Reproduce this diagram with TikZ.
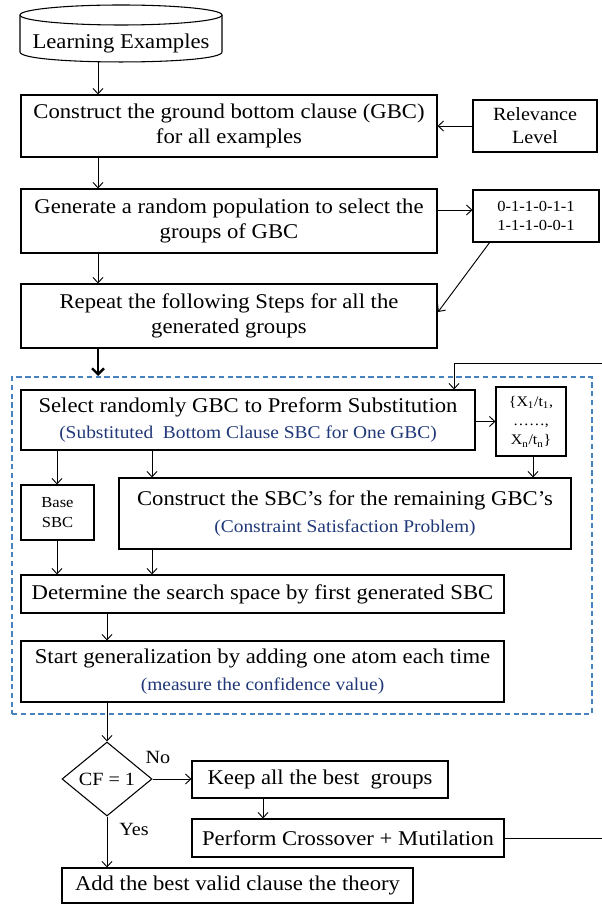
\documentclass[tikz,border=0pt]{standalone}
\usepackage{fontspec}
\setmainfont{Liberation Serif}[FakeStretch=1.08]
\usetikzlibrary{arrows.meta,shapes.geometric,fit}

\definecolor{notecol}{RGB}{32,56,120}
\definecolor{framecol}{RGB}{70,130,190}

\newcommand\mainsz{\fontsize{15.75}{18.75}\selectfont}
\newcommand\notesz{\fontsize{13.5}{16}\selectfont}
\newcommand\lblsz{\fontsize{14}{17.25}\selectfont}
\newcommand\binsz{\fontsize{11.5}{14.25}\selectfont}
\newcommand\minisz{\fontsize{11.5}{15}\selectfont}
\newcommand\subsz{\fontsize{11}{14.5}\selectfont}

% \boxat{style}{name}{x1}{y1}{x2}{y2}{text}; -- a node filling the given corners
\newcommand\boxat[6]{\node[#1, minimum width={(#5-#3)*0.75pt}, minimum height={(#6-#4)*0.75pt}]
  (#2) at ({(#3+#5)/2},{(#4+#6)/2})}

\begin{document}
\begin{tikzpicture}[x=0.75pt,y=-0.75pt,
  box/.style={draw, line width=0.8pt, inner sep=0pt, align=center, font=\mainsz},
  smallbox/.style={draw, line width=0.8pt, inner sep=0pt, align=center},
  arr/.style={line width=0.7pt, -{Straight Barb[length=4pt,width=7.5pt]}},
  thickarr/.style={line width=1.8pt, -{Straight Barb[length=4.5pt,width=9pt]}},
  plain/.style={line width=0.8pt},
]
\useasboundingbox (0,0) rectangle (602,905);

% column positions for the vertical connectors
\coordinate (cA) at (98,0);
\coordinate (cB) at (57,0);
\coordinate (cC) at (152,0);
\coordinate (cD) at (533,0);
\coordinate (cE) at (107,0);
\coordinate (cF) at (263,0);

% data store: cylinder
\draw[plain] (121,15) ellipse [x radius=101, y radius=10];
\draw[plain] (20,15) -- (20,52) .. controls (20,65.3) and (222,65.3) .. (222,52) -- (222,15);
\node[inner sep=0pt, minimum width=151.5pt, minimum height=27.75pt, font=\mainsz] (le) at (121,43.5) {Learning Examples};

% upper chain
\boxat{box}{b2}{21}{95}{437}{157} {Construct the ground bottom clause (GBC)\\for all examples};
\boxat{smallbox, font=\lblsz}{rel}{473}{100}{597}{152} {Relevance\\Level};
\boxat{box}{b3}{21}{189}{437}{253} {Generate a random population to select the\\groups of GBC};
\boxat{smallbox, font=\binsz}{bin}{473}{190}{599}{242} {0-1-1-0-1-1\\1-1-1-0-0-1};
\boxat{box}{b4}{21}{284}{437}{348} {Repeat the following Steps for all the\\generated groups};

\draw[arr] (le.south -| cA) -- (b2.north -| cA);
\draw[arr] (rel.west) -- (b2.east |- rel.west);
\draw[arr] (b2.south -| cA) -- (b3.north -| cA);
\draw[arr] (b3.east |- 0,210) -- (bin.west |- 0,210);
\draw[arr] (b3.south -| cA) -- (b4.north -| cA);
\coordinate (dgs) at (490,242);
\coordinate (dge) at (438,312);
\draw[arr] (dgs) -- (dge);

% repeated part, inside the dashed frame
\boxat{draw=framecol, line width=0.8pt, dash pattern=on 4pt off 2.6pt, inner sep=0pt}{grp}{12}{377}{592}{714} {};
\draw[thickarr] (b4.south -| cA) -- (98,376);

\boxat{box}{b5}{21}{390}{475}{450} {Select randomly GBC to Preform Substitution\\[1pt]
  {\color{notecol}\notesz (Substituted\ \ Bottom Clause SBC for One GBC)}};
\boxat{smallbox, font=\subsz}{sub}{496}{387}{566}{456}
  {\{X\textsubscript{1}/t\textsubscript{1},\\\ldots\ldots,\\X\textsubscript{n}/t\textsubscript{n}\}};
\boxat{smallbox, font=\minisz}{base}{21}{485}{94}{540} {Base\\SBC};
\boxat{box}{b6}{119}{478}{571}{549} {Construct the SBC's for the remaining GBC's\\[1pt]
  {\color{notecol}\notesz (Constraint Satisfaction Problem)}};
\boxat{box}{b7}{21}{575}{504}{613} {Determine the search space by first generated SBC};
\boxat{box}{b8}{21}{641}{504}{702} {Start generalization by adding one atom each time\\[1pt]
  {\color{notecol}\notesz (measure the confidence value)}};

\draw[arr] (b5.east |- sub.west) -- (sub.west);
\draw[arr] (b5.south -| cB) -- (base.north -| cB);
\draw[arr] (b5.south -| cC) -- (b6.north -| cC);
\draw[arr] (sub.south -| cD) -- (b6.north -| cD);
\draw[arr] (base.south -| cB) -- (b7.north -| cB);
\draw[arr] (b6.south -| cC) -- (b7.north -| cC);
\draw[arr] (b7.south -| cE) -- (b8.north -| cE);

% decision and the closing steps
\node[draw, diamond, line width=0.8pt, minimum width=67.5pt, minimum height=55.5pt,
      inner sep=0pt, font=\lblsz] (cf) at (107,779) {CF = 1};
\boxat{box}{keep}{192}{761}{448}{798} {Keep all the best\ \ groups};
\boxat{box}{perf}{192}{819}{504}{857} {Perform Crossover + Mutilation};
\boxat{box}{add}{62}{868}{413}{903} {Add the best valid clause the theory};
\node[font=\lblsz] (no) at (158,757) {No};
\node[font=\lblsz] (yes) at (134,829) {Yes};

\draw[arr] (b8.south -| cE) -- (cf.north);
\draw[arr] (cf.east) -- (keep.west |- cf.east);
\draw[arr] (keep.south -| cF) -- (perf.north -| cF);
\draw[arr] (cf.south) -- (add.north -| cE);

% feedback loop back to the substitution step
\coordinate (lpin) at (454,363);
\draw[arr] (perf.east) -- (perf.east -| 606,0) |- (lpin) -- (lpin |- b5.north);

\end{tikzpicture}
\end{document}
